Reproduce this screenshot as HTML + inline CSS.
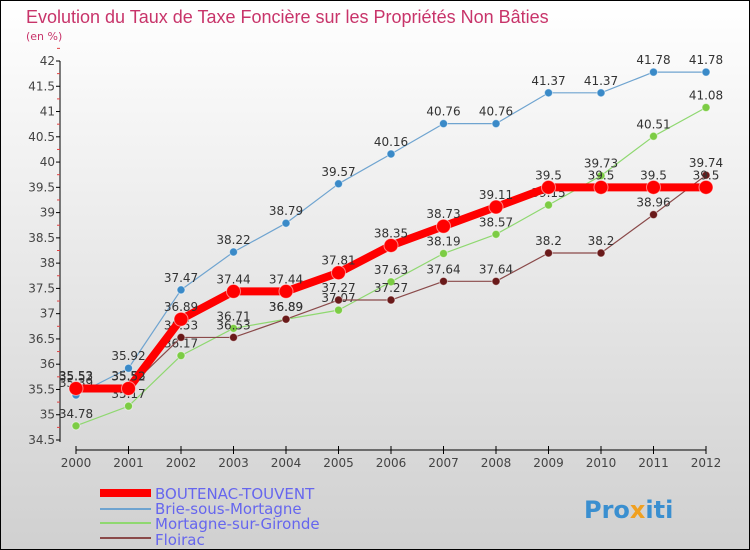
<!DOCTYPE html>
<html><head><meta charset="utf-8"><style>
body{margin:0}
#c{width:750px;height:550px;position:relative;overflow:hidden}
svg text{font-family:"DejaVu Sans","Liberation Sans",sans-serif}
</style></head><body>
<div id="c">
<svg id="s" width="750" height="550" xmlns="http://www.w3.org/2000/svg">
<defs><linearGradient id="bg" x1="0" y1="0" x2="0" y2="1"><stop offset="0" stop-color="#ffffff"/><stop offset="1" stop-color="#d0d0d0"/></linearGradient></defs>
<rect x="0.5" y="0.5" width="749" height="549" fill="url(#bg)" stroke="#000"/>
<text x="26" y="23" font-size="18" fill="#c8346a" style="font-family:'Liberation Sans',sans-serif">Evolution du Taux de Taxe Foncière sur les Propriétés Non Bâties</text>
<text x="26" y="40" font-size="11" fill="#c8346a">(en %)</text>
<g id="axes"></g><g id="series"></g>
<g>
<rect x="100" y="489" width="51" height="8" fill="#ff0000"/>
<line x1="100" y1="509" x2="151" y2="509" stroke="#6fa4d0" stroke-width="2"/>
<line x1="100" y1="523" x2="151" y2="523" stroke="#8fd870" stroke-width="2"/>
<line x1="100" y1="538" x2="151" y2="538" stroke="#8a4a4a" stroke-width="2"/>
<text x="155" y="499" font-size="15" fill="#6666ee">BOUTENAC-TOUVENT</text>
<text x="155" y="514" font-size="15" fill="#6666ee">Brie-sous-Mortagne</text>
<text x="155" y="529" font-size="15" fill="#6666ee">Mortagne-sur-Gironde</text>
<text x="155" y="545" font-size="15" fill="#6666ee">Floirac</text>
</g>
<text x="584" y="518" font-size="24" font-weight="bold" fill="#3a8fd0">Pro<tspan fill="#f0a020">x</tspan>iti</text>
</svg></div>
<script>
const years=["2000","2001","2002","2003","2004","2005","2006","2007","2008","2009","2010","2011","2012"];
const yTicks=[34.5,35,35.5,36,36.5,37,37.5,38,38.5,39,39.5,40,40.5,41,41.5,42];
const boutenac=[35.52,35.52,36.89,37.44,37.44,37.81,38.35,38.73,39.11,39.5,39.5,39.5,39.5];
const brie=[35.39,35.92,37.47,38.22,38.79,39.57,40.16,40.76,40.76,41.37,41.37,41.78,41.78];
const mortagne=[34.78,35.17,36.17,36.71,36.89,37.07,37.63,38.19,38.57,39.15,39.73,40.51,41.08];
const floirac=[35.53,35.53,36.53,36.53,36.89,37.27,37.27,37.64,37.64,38.2,38.2,38.96,39.74];
const NS="http://www.w3.org/2000/svg";
const xs=i=>76+i*52.5;
const ys=v=>440-(v-34.5)*(379/7.5);
function mk(t,a,p){const e=document.createElementNS(NS,t);for(const k in a)e.setAttribute(k,a[k]);p.appendChild(e);return e;}
const ax=document.getElementById('axes');
const yl=mk('line',{x1:60,y1:ys(42),x2:60,y2:ys(34.5)+2,stroke:'#000'},ax);


yTicks.forEach(v=>{
 mk('line',{x1:56,y1:ys(v),x2:60,y2:ys(v),stroke:'#000'},ax);
 mk('line',{x1:57,y1:ys(v+0.25),x2:60,y2:ys(v+0.25),stroke:'#e04040'},ax);
 const t=mk('text',{x:55,y:ys(v)+4,'font-size':12,fill:'#444','text-anchor':'end'},ax);t.textContent=String(v);
 
 
});
const xl=mk('line',{x1:xs(0),y1:450,x2:xs(12),y2:450,stroke:'#000'},ax);


years.forEach((y,i)=>{
 mk('line',{x1:xs(i),y1:446,x2:xs(i),y2:454,stroke:'#000'},ax);
 const t=mk('text',{x:xs(i),y:467,'font-size':12,fill:'#444','text-anchor':'middle'},ax);t.textContent=y;
 
 
});
const sg=document.getElementById('series');
function draw(data,name,col,dot,w,r){
 const g=mk('g',{},sg);
 
 
 mk('polyline',{points:data.map((v,i)=>xs(i)+','+ys(v)).join(' '),fill:'none',stroke:col,'stroke-width':w,'stroke-linejoin':'round'},g);
 data.forEach((v,i)=>{
  const c=mk('circle',{cx:xs(i),cy:ys(v),r:r,fill:dot,stroke:'#ffffff','stroke-opacity':0.5},g);
  
  
  const t=mk('text',{x:xs(i),y:ys(v)-8,'font-size':12,fill:'#333','text-anchor':'middle'},g);t.textContent=String(v);
  
  
 });
}
draw(mortagne,'mortagne-series','#8fd870','#7ccc44',1.2,4);
draw(floirac,'floirac-series','#8a4a4a','#6a1a1a',1.2,4);
draw(brie,'brie-series','#6fa4d0','#3a8ac8',1.2,4);
draw(boutenac,'boutenac-series','#ff0000','#ff0000',8,7);
</script>
</body></html>
